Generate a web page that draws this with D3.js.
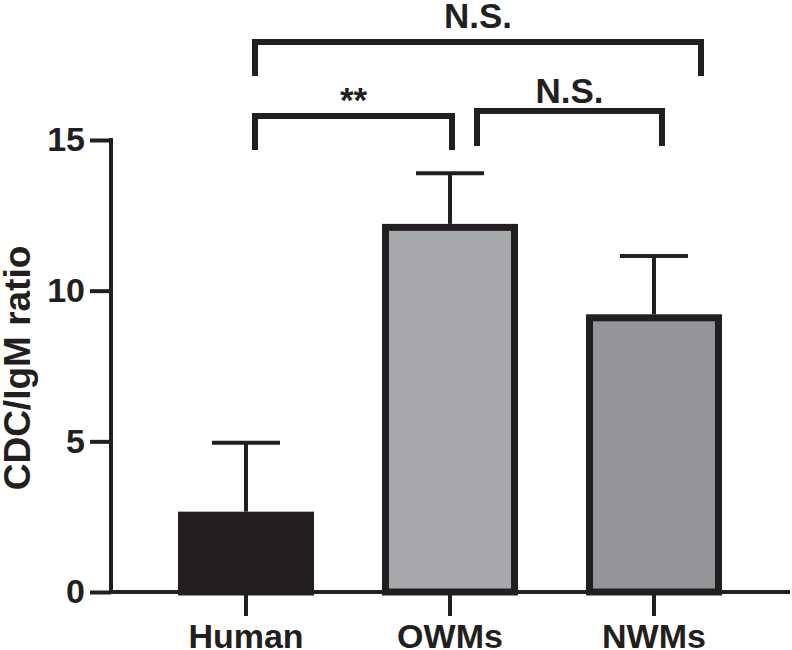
<!DOCTYPE html>
<html>
<head>
<meta charset="utf-8">
<script src="https://cdn.jsdelivr.net/npm/d3@7"></script>
<style>
  body { margin: 0; background: #fff; }
  text { font-family: "Liberation Sans", Arial, sans-serif; font-weight: bold; fill: #231f20; }
</style>
</head>
<body>
<div id="chart"></div>
<script>
// Data
var groups = ["Human", "OWMs", "NWMs"];
var means = [2.55, 12.1, 9.1];
var errors = [2.4, 1.8, 2.05];
var yTicks = [0, 5, 10, 15];
var comparisons = [
  { from: "Human", to: "NWMs", label: "N.S." },
  { from: "Human", to: "OWMs", label: "**" },
  { from: "OWMs", to: "NWMs", label: "N.S." }
];

// Look of the figure
var svgWidth = 792;
var svgHeight = 650;
var ink = "#231f20";
var fills = ["#231f20", "#a7a9ac", "#939598"];

// Bracket placement (pixels), same order as comparisons
var bracketLayout = [
  { y: 42, drop: 34, dx0: 9, dx1: 47, textY: 28 },
  { y: 116, drop: 34, dx0: 9, dx1: 2, textY: 112 },
  { y: 111, drop: 35, dx0: 27, dx1: 8, textY: 103 }
];

var svg = d3.select("#chart")
  .append("svg")
    .attr("width", svgWidth)
    .attr("height", svgHeight);

var yScale = d3.scaleLinear()
  .domain([0, 15])
  .range([592, 140]);

var xScale = d3.scaleBand()
  .domain(groups)
  .range([144, 756])
  .paddingInner(1 / 3)
  .paddingOuter(1 / 6);

function cx(g) { return xScale(g) + xScale.bandwidth() / 2; }

// Bars
var sw = 7;
svg.selectAll(".bar")
  .data(groups)
  .enter()
  .append("rect")
    .attr("class", "bar")
    .attr("x", d => xScale(d) + sw / 2)
    .attr("width", xScale.bandwidth() - sw)
    .attr("y", (d, i) => yScale(means[i]))
    .attr("height", (d, i) => yScale(0) - yScale(means[i]))
    .attr("fill", (d, i) => fills[i])
    .attr("stroke", ink)
    .attr("stroke-width", sw);

// Error bars (upper only)
var err = svg.selectAll(".err")
  .data(groups)
  .enter()
  .append("g")
    .attr("class", "err");

err.append("line")
  .attr("x1", d => cx(d))
  .attr("x2", d => cx(d))
  .attr("y1", (d, i) => yScale(means[i]) - sw / 2)
  .attr("y2", (d, i) => yScale(means[i] + errors[i]))
  .attr("stroke", ink)
  .attr("stroke-width", 4);

err.append("line")
  .attr("x1", d => cx(d) - 34)
  .attr("x2", d => cx(d) + 34)
  .attr("y1", (d, i) => yScale(means[i] + errors[i]))
  .attr("y2", (d, i) => yScale(means[i] + errors[i]))
  .attr("stroke", ink)
  .attr("stroke-width", 4);

// Axes
var leftAxis = d3.axisLeft(yScale)
  .tickValues(yTicks)
  .tickSize(21)
  .tickSizeOuter(0)
  .tickPadding(5);

var gy = svg.append("g")
  .attr("transform", "translate(111, 0)")
  .call(leftAxis);

gy.select(".domain").remove();
gy.selectAll("line").attr("stroke", ink).attr("stroke-width", 4);
gy.selectAll("text").style("font-size", "34px");

svg.append("line")
  .attr("x1", 111).attr("x2", 111)
  .attr("y1", yScale(15) - 2).attr("y2", yScale(0) + 2)
  .attr("stroke", ink).attr("stroke-width", 4);

var bottomAxis = d3.axisBottom(xScale)
  .tickSize(24)
  .tickSizeOuter(0)
  .tickPadding(8);

var gx = svg.append("g")
  .attr("transform", `translate(0, ${yScale(0)})`)
  .call(bottomAxis);

gx.select(".domain").remove();
gx.selectAll("line").attr("stroke", ink).attr("stroke-width", 4);
gx.selectAll("text").style("font-size", "34px");

svg.append("line")
  .attr("x1", 109).attr("x2", 790)
  .attr("y1", yScale(0)).attr("y2", yScale(0))
  .attr("stroke", ink).attr("stroke-width", 4);

// Y label
svg.append("text")
  .attr("transform", "rotate(-90)")
  .attr("x", -368)
  .attr("y", 30)
  .attr("text-anchor", "middle")
  .style("font-size", "37px")
  .text("CDC/IgM ratio");

// Significance brackets
comparisons.forEach(function(c, i) {
  var L = bracketLayout[i];
  var x0 = cx(c.from) + L.dx0;
  var x1 = cx(c.to) + L.dx1;
  svg.append("path")
    .attr("d", `M${x0},${L.y + L.drop}V${L.y}H${x1}V${L.y + L.drop}`)
    .attr("fill", "none")
    .attr("stroke", ink)
    .attr("stroke-width", 6);
  svg.append("text")
    .attr("x", (x0 + x1) / 2)
    .attr("y", L.textY)
    .attr("text-anchor", "middle")
    .style("font-size", "35px")
    .text(c.label);
});
</script>
</body>
</html>
